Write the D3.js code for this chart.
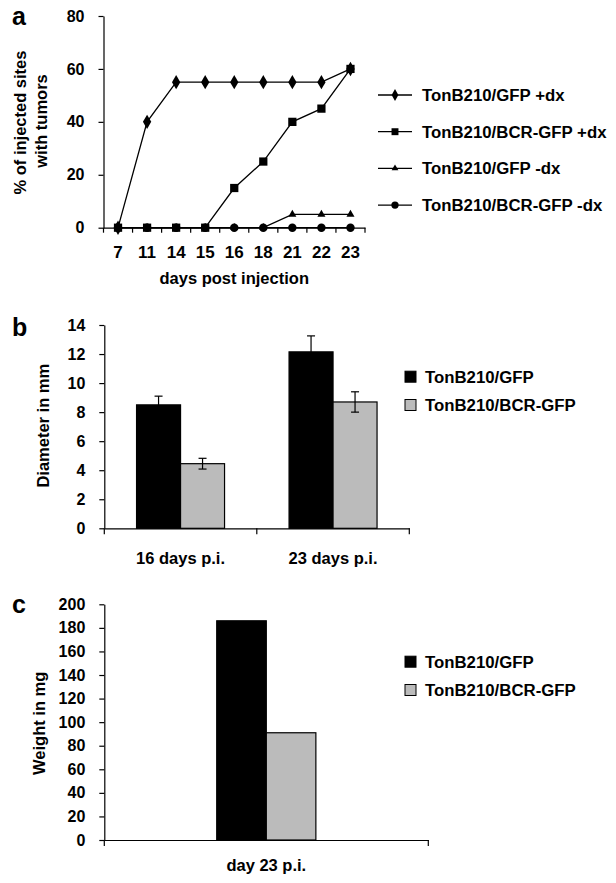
<!DOCTYPE html>
<html><head><meta charset="utf-8">
<script src="https://cdn.jsdelivr.net/npm/d3@7/dist/d3.min.js"></script>
<style>
body{margin:0;background:#fff;}
svg{display:block;font-family:"Liberation Sans",Arial,Helvetica,sans-serif;font-weight:bold;}
</style></head>
<body>
<svg id="chart" width="616" height="883"></svg>
<script>
// ---- Panel a data ----
const daysA = ["7","11","14","15","16","18","21","22","23"];
const gfpPlusDx    = [0,40,55,55,55,55,55,55,60];
const bcrPlusDx    = [0,0,0,0,15,25,40,45,60];
const gfpMinusDx   = [0,0,0,0,0,0,5,5,5];
const bcrMinusDx   = [0,0,0,0,0,0,0,0,0];
const seriesNamesA = ["TonB210/GFP +dx","TonB210/BCR-GFP +dx","TonB210/GFP -dx","TonB210/BCR-GFP -dx"];
const yTicksA = [0,20,40,60,80];

// ---- Panel b data ----
const catsB = ["16 days p.i.","23 days p.i."];
const diamGFP = [8.5,12.15];
const diamGFPErr = [0.6,1.1];
const diamBCR = [4.45,8.7];
const diamBCRErr = [0.37,0.7];
const yTicksB = [0,2,4,6,8,10,12,14];

// ---- Panel c data ----
const catsC = ["day 23 p.i."];
const weightGFP = [186];
const weightBCR = [91];
const yTicksC = [0,20,40,60,80,100,120,140,160,180,200];

const barNames = ["TonB210/GFP","TonB210/BCR-GFP"];
const barColors = ["#000000","#bbbbbb"];

const svg = d3.select("#chart");
const FONT = "Liberation Sans, Arial, sans-serif";

function panelLabel(t,x,y){
  svg.append("text").attr("x",x).attr("y",y).attr("font-size",25).text(t);
}
function styleAxis(g,fs){
  g.selectAll("path,line").attr("stroke","#000").attr("stroke-width",1.2);
  g.selectAll("text").attr("font-size",fs).attr("font-family",FONT).attr("font-weight","bold").attr("fill","#000");
}
function bandTicks(g,x,y0,len){
  const n = x.domain().length;
  for(let i=0;i<=n;i++){
    const xx = x.range()[0] + i*x.step();
    g.append("line").attr("x1",xx).attr("x2",xx).attr("y1",y0).attr("y2",y0+len)
      .attr("stroke","#000").attr("stroke-width",1.2);
  }
}

// ================= Panel a =================
panelLabel("a",12,25);
const xa = d3.scaleBand().domain(daysA).range([103.5,365]).padding(0);
const ya = d3.scaleLinear().domain([0,80]).range([227.7,16]);
const gA = svg.append("g");
const yAxA = gA.append("g").attr("transform",`translate(${xa.range()[0]},0)`)
  .call(d3.axisLeft(ya).tickValues(yTicksA).tickSize(5).tickSizeOuter(0).tickPadding(14));
styleAxis(yAxA,16);
const xAxA = gA.append("g").attr("transform",`translate(0,${ya(0)})`)
  .call(d3.axisBottom(xa).tickSize(0).tickSizeOuter(0).tickPadding(18.5));
styleAxis(xAxA,17);
bandTicks(gA,xa,ya(0),5);
gA.append("text").attr("x",(xa.range()[0]+xa.range()[1])/2).attr("y",278).attr("dy","0.35em")
  .attr("text-anchor","middle").attr("font-size",16.5).text("days post injection");
gA.append("text").attr("transform","translate(20,122.5) rotate(-90)").attr("dy","0.35em")
  .attr("text-anchor","middle").attr("font-size",16.5).text("% of injected sites");
gA.append("text").attr("transform","translate(41,121) rotate(-90)").attr("dy","0.35em")
  .attr("text-anchor","middle").attr("font-size",16.5).text("with tumors");

const seriesA = [
  {name:seriesNamesA[3], vals:bcrMinusDx, shape:"circle"},
  {name:seriesNamesA[2], vals:gfpMinusDx, shape:"triangle"},
  {name:seriesNamesA[1], vals:bcrPlusDx, shape:"square"},
  {name:seriesNamesA[0], vals:gfpPlusDx, shape:"diamond"}
];
const symType = {circle:d3.symbolCircle, triangle:d3.symbolTriangle, square:d3.symbolSquare, diamond:d3.symbolDiamond};
const symSize = {circle:56, triangle:28, square:68, diamond:60};
const legSize = {circle:42, triangle:20, square:48, diamond:40};
const line = d3.line().x((d,i)=>xa(daysA[i])+xa.bandwidth()/2).y(d=>ya(d));
seriesA.forEach(s=>{
  gA.append("path").attr("d",line(s.vals)).attr("fill","none").attr("stroke","#000").attr("stroke-width",1.3);
});
seriesA.forEach(s=>{
  gA.selectAll(null).data(s.vals).enter().append("path")
    .attr("transform",(d,i)=>`translate(${xa(daysA[i])+xa.bandwidth()/2},${ya(d)})`)
    .attr("d",d3.symbol().type(symType[s.shape]).size(symSize[s.shape]))
    .attr("fill","#000");
});
// legend a
const legA = [
  {name:seriesNamesA[0],shape:"diamond"},
  {name:seriesNamesA[1],shape:"square"},
  {name:seriesNamesA[2],shape:"triangle"},
  {name:seriesNamesA[3],shape:"circle"}
];
legA.forEach((s,i)=>{
  const y = 95 + i*36.7;
  gA.append("line").attr("x1",378).attr("x2",412).attr("y1",y).attr("y2",y).attr("stroke","#000").attr("stroke-width",1.3);
  gA.append("path").attr("transform",`translate(395,${y})`).attr("d",d3.symbol().type(symType[s.shape]).size(legSize[s.shape])).attr("fill","#000");
  gA.append("text").attr("x",422).attr("y",y).attr("dy","0.35em").attr("font-size",16.8).text(s.name);
});

// ================= bar panel helper =================
function barPanel(opts){
  const g = svg.append("g");
  const x0 = d3.scaleBand().domain(opts.cats).range(opts.xr).padding(0);
  const y = d3.scaleLinear().domain(opts.ydom).range(opts.yr);
  const gw = x0.bandwidth()*opts.groupFrac;
  const x1 = d3.scaleBand().domain([0,1]).range([0,gw]).padding(0);
  const yAx = g.append("g").attr("transform",`translate(${opts.xr[0]},0)`)
    .call(d3.axisLeft(y).tickValues(opts.yticks).tickSize(5).tickSizeOuter(0).tickPadding(14));
  styleAxis(yAx,16);
  const series = [opts.v1,opts.v2];
  series.forEach((vals,si)=>{
    g.selectAll(null).data(vals).enter().append("rect")
      .attr("x",(d,i)=>x0(opts.cats[i])+(x0.bandwidth()-gw)/2+x1(si))
      .attr("y",d=>y(d)).attr("width",x1.bandwidth()).attr("height",d=>y(0)-y(d))
      .attr("fill",barColors[si]).attr("stroke","#000").attr("stroke-width",1.2);
  });
  if(opts.e1){
    [opts.e1,opts.e2].forEach((errs,si)=>{
      errs.forEach((e,i)=>{
        const cx = x0(opts.cats[i])+(x0.bandwidth()-gw)/2+x1(si)+x1.bandwidth()/2;
        const v = series[si][i];
        const col = "#000";
        g.append("line").attr("x1",cx).attr("x2",cx).attr("y1",y(v+e)).attr("y2",y(v-e)).attr("stroke",col).attr("stroke-width",1.2);
        [v+e,v-e].forEach(t=>g.append("line").attr("x1",cx-4).attr("x2",cx+4).attr("y1",y(t)).attr("y2",y(t)).attr("stroke",col).attr("stroke-width",1.2));
      });
    });
  }
  const xAx = g.append("g").attr("transform",`translate(0,${y(0)})`)
    .call(d3.axisBottom(x0).tickSize(0).tickSizeOuter(0).tickPadding(opts.xpad));
  styleAxis(xAx,16.5);
  bandTicks(g,x0,y(0),6);
  g.append("text").attr("transform",`translate(${opts.ylab[0]},${opts.ylab[1]}) rotate(-90)`).attr("dy","0.35em")
    .attr("text-anchor","middle").attr("font-size",16.5).text(opts.ylabel);
  barNames.forEach((n,i)=>{
    const ly = opts.legY + i*28.3;
    g.append("rect").attr("x",405).attr("y",ly-5.5).attr("width",11).attr("height",11)
      .attr("fill",barColors[i]).attr("stroke","#000").attr("stroke-width",1);
    g.append("text").attr("x",425).attr("y",ly).attr("dy","0.35em").attr("font-size",16.8).text(n);
  });
}

// ================= Panel b =================
panelLabel("b",12,336);
barPanel({cats:catsB, xr:[104.3,409.3], ydom:[0,14], yr:[528.3,325], yticks:yTicksB,
  groupFrac:0.577, v1:diamGFP, v2:diamBCR, e1:diamGFPErr, e2:diamBCRErr, xpad:23.5,
  ylab:[43.3,425.7], ylabel:"Diameter in mm", legY:376.7});

// ================= Panel c =================
panelLabel("c",12,613);
barPanel({cats:catsC, xr:[104.3,428.3], ydom:[0,200], yr:[840,604.3], yticks:yTicksC,
  groupFrac:0.306, v1:weightGFP, v2:weightBCR, xpad:19.5,
  ylab:[39.3,723.3], ylabel:"Weight in mg", legY:661.7});
</script>
</body></html>
